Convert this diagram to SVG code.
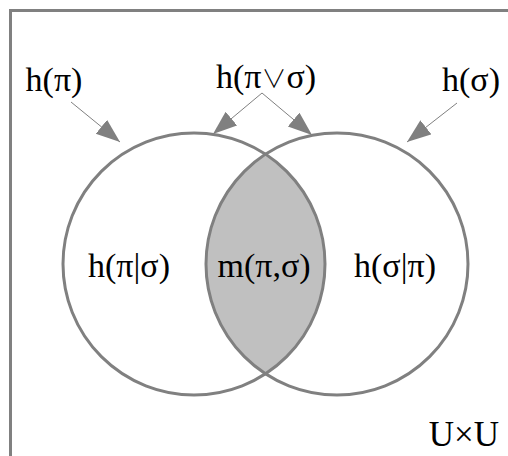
<svg xmlns="http://www.w3.org/2000/svg" width="508" height="456" viewBox="0 0 508 456">
<style>
.frame{fill:none;stroke:#808080;stroke-width:3}
.circ{fill:none;stroke:#808080;stroke-width:3}
.lens{fill:#c0c0c0;stroke:none}
.conn{stroke:#808080;stroke-width:1;fill:none}
text{font-family:"Liberation Serif","Times New Roman",serif;font-size:34px;fill:#000;text-anchor:middle}
.vee{font-family:"Noto Sans CJK SC","DejaVu Sans",sans-serif;font-weight:300;font-size:25px}
</style>
<defs>
<marker id="ah" markerUnits="userSpaceOnUse" markerWidth="26" markerHeight="20" refX="24" refY="9" orient="auto">
<path d="M0,0 L24,9 L0,18 Z" fill="#808080"/>
</marker>
</defs>
<rect class="frame" x="10.5" y="10.5" width="520" height="470"/>
<g id="intersection">
<path class="lens" d="M265.5,154.2 A131,131 0 0 1 265.5,373.8 A131,131 0 0 1 265.5,154.2 Z"/>
<text x="264" y="277">m(π,σ)</text>
</g>
<g id="set-pi">
<circle class="circ" cx="194" cy="264" r="131"/>
<text x="129" y="277">h(π|σ)</text>
</g>
<g id="set-sigma">
<circle class="circ" cx="337" cy="264" r="131"/>
<text x="395" y="277">h(σ|π)</text>
</g>
<g id="label-h-pi"><text x="54" y="91">h(π)</text></g>
<g id="label-h-join"><text x="266" y="88">h(π<tspan class="vee">∨</tspan>σ)</text></g>
<g id="label-h-sigma"><text x="471" y="91">h(σ)</text></g>
<g id="label-universe"><text x="464" y="446" style="font-size:35px">U×U</text></g>
<g id="connectors">
<line class="conn" x1="71" y1="102" x2="120" y2="142" marker-end="url(#ah)"/>
<line class="conn" x1="262" y1="93" x2="213" y2="134" marker-end="url(#ah)"/>
<line class="conn" x1="262" y1="93" x2="312" y2="135" marker-end="url(#ah)"/>
<line class="conn" x1="457" y1="103" x2="407" y2="142" marker-end="url(#ah)"/>
</g>
</svg>
